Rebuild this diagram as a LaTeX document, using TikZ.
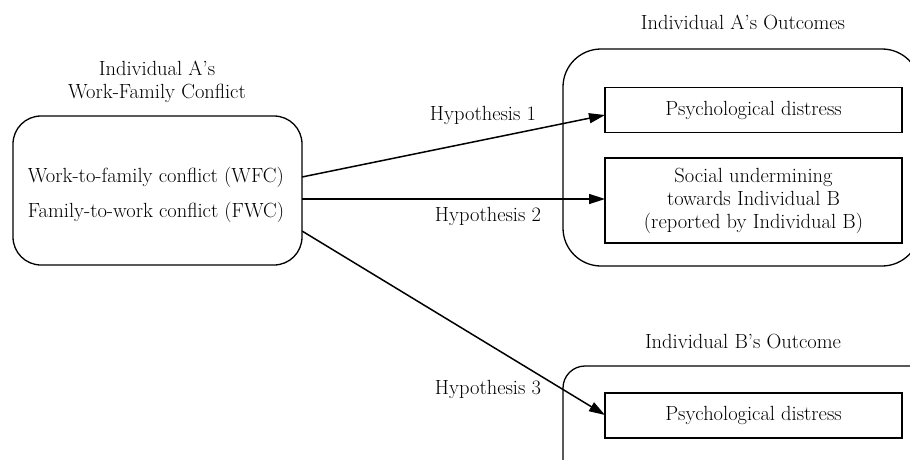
\documentclass[tikz,border=0pt]{standalone}
\usetikzlibrary{arrows.meta}
\begin{document}
\begin{tikzpicture}[x=1pt,y=-1pt,
  txt/.style={font=\fontsize{20.5}{23}\selectfont, align=center, inner sep=0pt},
  outer/.style={draw, line width=1.3pt, rounded corners=#1},
  inbox/.style={draw, line width=1.3pt, rectangle, minimum width=297pt, inner sep=0pt, txt},
  conn/.style={line width=1.5pt, -{Triangle[length=16pt,width=10pt]}},
  hyp/.style={txt}]
\useasboundingbox (0,0) rectangle (910,460);
% left group
\node[txt] (ttlA) at (157,82) {Individual A’s\\Work-Family Conflict};
\node[draw, line width=1.3pt, rounded corners=28pt, minimum width=289pt, minimum height=149pt, inner sep=0pt] (left) at (157.5,190.5) {};
\node[txt, align=left, font=\fontsize{20.5}{35}\selectfont] (wf) at (156,195) {Work-to-family conflict (WFC)\\Family-to-work conflict (FWC)};
% A outcomes group
\node[txt] (ttlAo) at (743,22) {Individual A’s Outcomes};
\draw[outer=38pt] (563,49) rectangle (920,266);
\node[inbox, minimum height=45pt] (pdA) at (753.5,110) {Psychological distress};
\node[inbox, minimum height=85pt] (su) at (753.5,200.5) {Social undermining\\towards Individual B\\(reported by Individual B)};
% B outcome group
\node[txt] (ttlB) at (743,341) {Individual B’s Outcome};
\draw[outer=22pt] (563,366) rectangle (950,500);
\node[inbox, minimum height=45pt] (pdB) at (753.5,415.5) {Psychological distress};
% connectors
\coordinate (s1) at (302,177);
\coordinate (s2) at (302,199);
\coordinate (s3) at (302,231);
\coordinate (e1) at (605,115);
\coordinate (e2) at (605,199);
\coordinate (e3) at (605,415);
\draw[conn] (s1) -- (e1);
\draw[conn] (s2) -- (e2);
\draw[conn] (s3) -- (e3);
\node[hyp] (h1) at (483,115) {Hypothesis 1};
\node[hyp] (h2) at (488,216) {Hypothesis 2};
\node[hyp] (h3) at (488,389) {Hypothesis 3};
\end{tikzpicture}
\end{document}
